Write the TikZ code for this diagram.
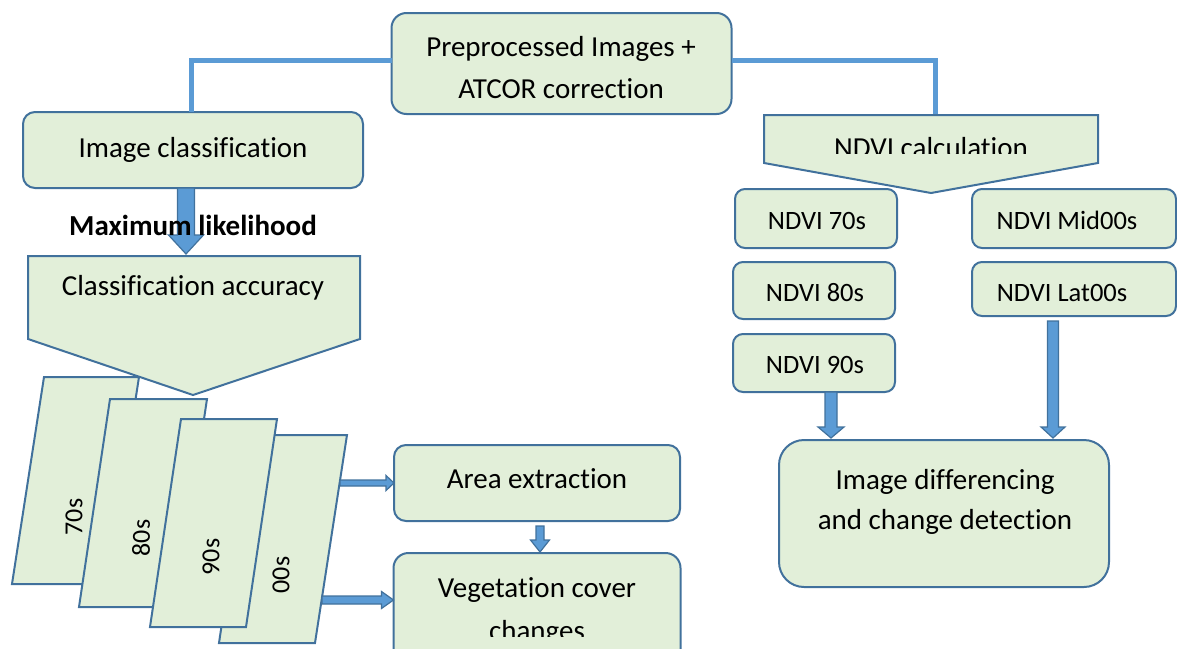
\documentclass[tikz,border=0pt]{standalone}
\usepackage{fontspec}
\setmainfont[Ligatures=NoCommon]{Carlito}
\usetikzlibrary{calc}

\definecolor{boxfill}{HTML}{E2EFD9}
\definecolor{boxedge}{HTML}{41719C}
\definecolor{linkblue}{HTML}{5B9BD5}

\tikzset{
  rbox/.style={draw=boxedge, fill=boxfill, line width=2pt, rounded corners=#1,
               inner sep=0pt, outer sep=0pt},
  rbox/.default=12pt,
  shapefill/.style={draw=boxedge, fill=boxfill, line width=2pt, line join=miter},
  link/.style={draw=linkblue, line width=5pt},
  blockarrow/.style={draw=boxedge, fill=linkblue, line width=1.2pt, line join=miter},
  lbl/.style={anchor=base, inner sep=0pt, font=\fontsize{29}{35}\selectfont},
  slbl/.style={anchor=base, inner sep=0pt, font=\fontsize{26.5}{31}\selectfont},
  yearlbl/.style={rotate=90, inner sep=0pt, font=\fontsize{26}{31}\selectfont},
}

% downward block arrow: start, tip, half shaft, half head, head length
\newcommand{\downblock}[5]{%
  \draw[blockarrow] let \p1=#1, \p2=#2 in
    (\x1-#3,\y1) -- (\x1+#3,\y1) -- (\x1+#3,\y2+#5) -- (\x1+#4,\y2+#5)
    -- (\x1,\y2) -- (\x1-#4,\y2+#5) -- (\x1-#3,\y2+#5) -- cycle;}
% rightward block arrow: start, tip, half shaft, half head, head length
\newcommand{\rightblock}[5]{%
  \draw[blockarrow] let \p1=#1, \p2=#2 in
    (\x1,\y1+#3) -- (\x2-#5,\y1+#3) -- (\x2-#5,\y1+#4) -- (\x2,\y1)
    -- (\x2-#5,\y1-#4) -- (\x2-#5,\y1-#3) -- (\x1,\y1-#3) -- cycle;}

\begin{document}
\begin{tikzpicture}[x=1pt,y=-1pt]
\useasboundingbox (0,0) rectangle (1177,648);
\clip (0,0) rectangle (1177,648);

% ---------- top box and its two branches ----------
\node[rbox=15pt, minimum width=340pt, minimum height=101pt] (pre) at (561.5,63.5) {};
\node[lbl] (preA) at (561,56) {Preprocessed Images +};
\node[lbl] (preB) at (561,98) {ATCOR correction};

\node[rbox, minimum width=340pt, minimum height=76pt] (imgcls) at (193,150) {};
\node[lbl] (imgclsT) at (193,157) {Image classification};

\coordinate (calcin) at (935,116);
\draw[link] ([yshift=3.5pt]pre.west) -| ([xshift=-1.5pt]imgcls.north);
\draw[link] ([yshift=3.5pt]pre.east) -| (calcin);

% ---------- left branch ----------
% classification accuracy (pentagon)
\draw[shapefill] (28,256) -- (360,256) -- (360,339) -- (193,395) -- (28,339) -- cycle;
\coordinate (clsin) at (186,254);
\node[lbl] (clsacc) at (193,295) {Classification accuracy};

\downblock{([xshift=-7pt]imgcls.south)}{(clsin)}{8.5pt}{17.5pt}{19pt}
\node[anchor=base, inner sep=0pt, font=\fontsize{29}{34}\selectfont\bfseries]
  (ml) at (193,235) {Maximum likelihood};

% classified images per decade (stacked parallelograms)
\draw[shapefill] (44,377) -- (139,377) -- (107,584) -- (12,584) -- cycle;
\node[yearlbl] (y70) at (74,517) {70s};
\draw[shapefill] (110,399) -- (207,399) -- (176,607) -- (79,607) -- cycle;
\node[yearlbl] (y80) at (141,538) {80s};
\draw[shapefill] (250,435) -- (347,435) -- (315,643) -- (219,643) -- cycle;
\node[yearlbl] (y00) at (281,575) {00s};
\draw[shapefill] (181,419) -- (277,419) -- (246,627) -- (150,627) -- cycle;
\node[yearlbl] (y90) at (211,557) {90s};

\coordinate (pA) at (340,483);
\coordinate (pB) at (322,600);

% area extraction and vegetation cover change
\node[rbox, minimum width=286pt, minimum height=76pt] (area) at (537,483) {};
\node[lbl] (areaT) at (537,488) {Area extraction};
\node[rbox=15pt, minimum width=287pt, minimum height=147pt] (veg) at (537,626.5) {};
\node[lbl] (vegA) at (537,597) {Vegetation cover};
\begin{scope}
  \clip (400,600) rectangle (675,636);
  \node[lbl] (vegB) at (537,640) {changes};
\end{scope}

\rightblock{(pA)}{(area.west)}{3pt}{7.5pt}{8pt}
\rightblock{(pB)}{(pB -| veg.west)}{4pt}{8.5pt}{12pt}
\downblock{([xshift=3pt,yshift=-5pt]area.south)}{([xshift=3pt,yshift=1pt]veg.north)}{4pt}{9.5pt}{12pt}

% ---------- right branch ----------
\draw[shapefill] (764,115) -- (1098,115) -- (1098,163) -- (931,193) -- (764,163) -- cycle;
\begin{scope}
  \clip (764,115) rectangle (1098,153);
  \node[lbl] (calcT) at (931,157) {NDVI calculation};
\end{scope}

\node[rbox=10pt, minimum width=162pt, minimum height=59pt] (n70) at (816,218.5) {};
\node[slbl] (n70T) at (817,229) {NDVI 70s};
\node[rbox=10pt, minimum width=162pt, minimum height=57pt] (n80) at (814,290.5) {};
\node[slbl] (n80T) at (815,301) {NDVI 80s};
\node[rbox=10pt, minimum width=162pt, minimum height=58pt] (n90) at (814,363) {};
\node[slbl] (n90T) at (815,373) {NDVI 90s};
\node[rbox=10pt, minimum width=204pt, minimum height=59pt] (nmid) at (1074,218.5) {};
\node[slbl] (nmidT) at (1067,229) {NDVI Mid00s};
\node[rbox=10pt, minimum width=204pt, minimum height=54pt] (nlat) at (1074,289) {};
\node[slbl] (nlatT) at (1062,301) {NDVI Lat00s};

\node[rbox=25pt, minimum width=330pt, minimum height=147pt] (diff) at (944,513.5) {};
\node[lbl] (diffA) at (945,489) {Image differencing};
\node[lbl] (diffB) at (945,529) {and change detection};

\coordinate (dA) at (831,438);
\coordinate (dB) at (1053,438);
\downblock{([xshift=17pt]n90.south)}{(dA)}{6pt}{13pt}{11pt}
\downblock{([xshift=-21pt,yshift=-5pt]nlat.south)}{(dB)}{5.5pt}{12pt}{11pt}
\end{tikzpicture}
\end{document}
